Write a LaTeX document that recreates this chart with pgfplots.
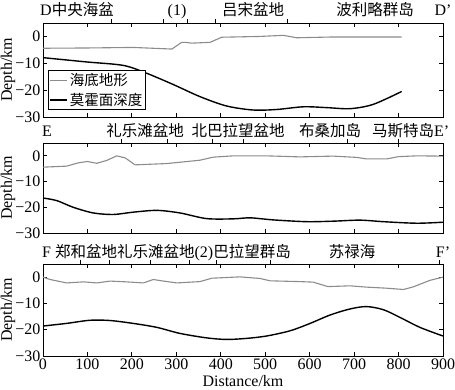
\documentclass[border=0pt]{standalone}
\usepackage{fontspec}
\setmainfont{Liberation Serif}
\newfontfamily\cjk{Noto Sans CJK SC}
\usepackage{pgfplots}
\pgfplotsset{compat=1.18}
\definecolor{sfgray}{gray}{0.55}
\newcommand\cn[1]{{\fontsize{15.5}{16}\selectfont\cjk #1}}
\pgfplotsset{
  panel/.style={
    scale only axis, width=400pt,
    xmin=0, xmax=900, ymin=-30, ymax=5,
    xtick={0,100,...,900}, xticklabels={},
    ytick={-30,-20,-10,0}, yticklabels={−30,−20,−10,0},
    tick align=inside, major tick length=4pt,
    axis line style={line width=0.8pt},
    every tick/.style={line width=0.8pt, black},
    tick label style={font=\fontsize{16}{16}\selectfont},
    yticklabel style={inner sep=1pt, xshift=-1.5pt},
    xticklabel style={inner sep=1pt, yshift=-1.5pt},
    ylabel={Depth/km},
    ylabel style={font=\fontsize{16}{16}\selectfont, at={(axis description cs:-0.0875,0.5)}, anchor=center},
    extra tick style={tick align=outside, xtick pos=upper, major tick length=4pt},
    extra x tick labels={},
    /pgf/number format/assume math mode=true,
    clip=false,
  },
  grayline/.style={color=sfgray, line width=1.1pt},
  blackline/.style={color=black, line width=1.4pt},
}
\begin{document}
\begin{tikzpicture}[x=1pt,y=1pt]
\path[use as bounding box] (0,0) rectangle (455,389);
% Panel 1
\begin{axis}[panel, at={(43pt,272pt)}, anchor=south west, height=94pt,
  extra x ticks={153,272,326,389,551},
  legend style={at={(0.0125,0.5)}, anchor=north west, draw=black, line width=0.8pt,
    font=\fontsize{14.5}{15}\selectfont\cjk, inner xsep=1pt, inner ysep=1pt, row sep=2pt},
  legend cell align=left,
  legend image code/.code={\draw[#1] (0pt,0pt) -- (17pt,0pt);}]
\addplot[grayline] coordinates {
(0,-4.4) (100,-4.3) (203,-4.1) (290,-4.7) (312,-2.2) (320,-2.2) (335,-2.5) (376,-2.2)
(402,-0.3) (488,0) (541,0.4) (571,-0.5) (653,-0.2) (807,-0.2)};
\addlegendentry{海底地形}
\addplot[blackline, smooth] coordinates {
(0,-7.9) (98,-9.5) (181,-10.8) (233,-13.7) (293,-17.9) (353,-22.4) (413,-25.9)
(473,-27.4) (526,-27.2) (586,-26.2) (638,-26.5) (691,-26.9) (743,-25.3) (807,-20.5)};
\addlegendentry{莫霍面深度}
\end{axis}
% Panel 2
\begin{axis}[panel, at={(43pt,156pt)}, anchor=south west, height=90pt,
  extra x ticks={177,281,382,452,685,800}]
\addplot[grayline] coordinates {
(0,-4.4) (53,-4.0) (80,-2.7) (100,-2.2) (121,-2.9) (143,-1.8) (166,0) (185,-0.8)
(207,-3.5) (278,-3.0) (353,-1.7) (383,-0.5) (428,0) (503,0) (578,-0.4) (653,-0.1)
(706,-0.6) (728,-1.2) (773,-1.2) (800,-0.3) (841,0) (900,-0.1)};
\addplot[blackline, smooth] coordinates {
(0,-16.4) (31,-17.4) (68,-20) (113,-22.2) (158,-22.8) (203,-21.9) (256,-21.2)
(308,-22.2) (368,-24.4) (428,-24.5) (466,-24.1) (518,-24.9) (593,-25.6) (653,-25.4)
(713,-25.0) (766,-25.6) (841,-26.2) (900,-25.8)};
\end{axis}
% Panel 3
\begin{axis}[panel, at={(43pt,33pt)}, anchor=south west, height=92pt,
  extra x ticks={85,149,241,329,391,511,891},
  xticklabels={0,100,200,300,400,500,600,700,800,900},
  xlabel={Distance/km},
  xlabel style={font=\fontsize{16}{16}\selectfont, at={(axis description cs:0.5,0)}, anchor=center, yshift=-25pt}]
\addplot[grayline] coordinates {
(0,0) (16,-0.9) (53,-2.2) (91,-1.8) (121,-2.2) (151,-1.5) (188,-1.8) (226,-2.2)
(248,-0.9) (271,-1.5) (301,-2.2) (353,-1.7) (380,-0.4) (443,0.1) (488,-0.5) (511,-1.4)
(578,-1.7) (608,-1.9) (641,-3.6) (691,-3.3) (728,-3.8) (773,-4.2) (811,-4.7)
(833,-3.7) (871,-1.2) (900,0)};
\addplot[blackline, smooth] coordinates {
(0,-18.6) (53,-17.6) (106,-16.4) (151,-16.5) (203,-17.6) (256,-19.1) (308,-21.4)
(368,-23.1) (413,-23.7) (458,-23.3) (503,-22.4) (556,-20.4) (601,-17.6) (646,-14.4)
(691,-12.1) (728,-11.2) (766,-12.4) (803,-15.3) (848,-19.1) (900,-22.4)};
\end{axis}
% Place-name labels
\begin{scope}[every node/.style={font=\fontsize{16}{16}\selectfont, inner sep=0pt}]
\node[anchor=base west] at (40,373) {D\cn{中央海盆}};
\node[anchor=base] at (177,373) {(1)};
\node[anchor=base] at (253,373) {\cn{吕宋盆地}};
\node[anchor=base] at (375,373) {\cn{波利略群岛}};
\node[anchor=base] at (443,373) {D’};
\node[anchor=base west] at (42,253) {E};
\node[anchor=base] at (145,253) {\cn{礼乐滩盆地}};
\node[anchor=base] at (238,253) {\cn{北巴拉望盆地}};
\node[anchor=base] at (330,253) {\cn{布桑加岛}};
\node[anchor=base west] at (372,253) {\cn{马斯特岛}E’};
\node[anchor=base west] at (42,132) {F \cn{郑和盆地礼乐滩盆地}(2)\cn{巴拉望群岛}};
\node[anchor=base] at (352,132) {\cn{苏禄海}};
\node[anchor=base] at (443,132) {F’};
\end{scope}
\end{tikzpicture}
\end{document}
